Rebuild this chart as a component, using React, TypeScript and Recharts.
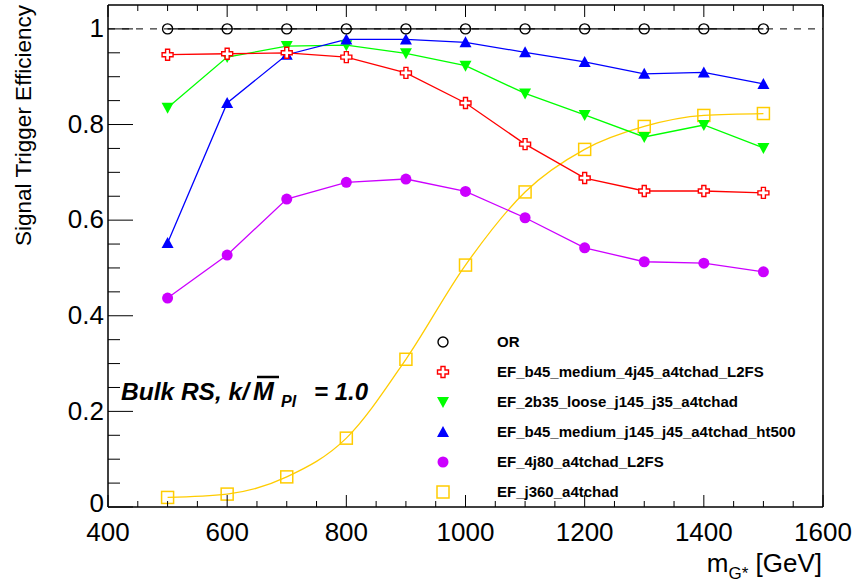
import React from 'react'
import { LineChart, Line, XAxis, YAxis, ReferenceLine } from 'recharts'

// G* mass points (GeV)
const masses = [500, 600, 700, 800, 900, 1000, 1100, 1200, 1300, 1400, 1500]

// trigger efficiencies per mass point
const effOR = [1, 1, 1, 1, 1, 1, 1, 1, 1, 1, 1]
const effB45_4j45 = [0.946, 0.948, 0.95, 0.941, 0.908, 0.845, 0.759, 0.688, 0.661, 0.661, 0.657]
const eff2b35 = [0.835, 0.941, 0.964, 0.966, 0.949, 0.923, 0.865, 0.82, 0.774, 0.799, 0.751]
const effB45Ht500 = [0.552, 0.845, 0.946, 0.978, 0.978, 0.972, 0.951, 0.931, 0.906, 0.909, 0.885]
const eff4j80 = [0.437, 0.527, 0.644, 0.679, 0.686, 0.66, 0.605, 0.542, 0.513, 0.51, 0.492]
const effJ360 = [0.02, 0.027, 0.063, 0.144, 0.309, 0.506, 0.659, 0.748, 0.796, 0.819, 0.823]

const xTicks = [400, 450, 500, 550, 600, 650, 700, 750, 800, 850, 900, 950, 1000, 1050, 1100, 1150, 1200, 1250, 1300, 1350, 1400, 1450, 1500, 1550, 1600]
const xLabels = [400, 600, 800, 1000, 1200, 1400, 1600]
const yTicks = [0, 0.05, 0.1, 0.15, 0.2, 0.25, 0.3, 0.35, 0.4, 0.45, 0.5, 0.55, 0.6, 0.65, 0.7, 0.75, 0.8, 0.85, 0.9, 0.95, 1]
const yLabels = [0, 0.2, 0.4, 0.6, 0.8, 1]

const data = masses.map((m, i) => ({
  m,
  or: effOR[i],
  b45_4j45: effB45_4j45[i],
  b2b35: eff2b35[i],
  b45ht: effB45Ht500[i],
  j80: eff4j80[i],
  j360: effJ360[i],
}))

const FONT = '"Liberation Sans", Arial, Helvetica, sans-serif'

const isMajorY = (v: number) => yLabels.some((l) => Math.abs(l - v) < 1e-6)

// ---- marker shapes ----
const OpenCircle = ({ cx, cy }: any) => <circle cx={cx} cy={cy} r={5} fill="none" stroke="#000" strokeWidth={1.4} />
const OpenCross = ({ cx, cy }: any) => {
  const h = 5.5
  const a = 2
  const pts = [
    [-a, -h], [a, -h], [a, -a], [h, -a], [h, a], [a, a],
    [a, h], [-a, h], [-a, a], [-h, a], [-h, -a], [-a, -a],
  ].map(([px, py]) => `${cx + px},${cy + py}`).join(' ')
  return <polygon points={pts} fill="#fff" stroke="#ff0000" strokeWidth={1.4} />
}
const DownTri = ({ cx, cy }: any) => (
  <polygon points={`${cx - 6},${cy - 5} ${cx + 6},${cy - 5} ${cx},${cy + 6}`} fill="#00ff00" />
)
const UpTri = ({ cx, cy }: any) => (
  <polygon points={`${cx - 6},${cy + 5} ${cx + 6},${cy + 5} ${cx},${cy - 6}`} fill="#0000ff" />
)
const FullCircle = ({ cx, cy }: any) => <circle cx={cx} cy={cy} r={5.5} fill="#cc00ff" />
const OpenSquare = ({ cx, cy }: any) => (
  <rect x={cx - 6} y={cy - 6} width={12} height={12} fill="none" stroke="#ffcc00" strokeWidth={1.5} />
)

const dotFn = (Shape: any) => (props: any) => <Shape key={`${props.dataKey}-${props.index}`} cx={props.cx} cy={props.cy} />

// ---- axis ticks (ROOT style, pointing inward) ----
const BottomTick = ({ x, y, payload }: any) => {
  const major = xLabels.includes(payload.value)
  return (
    <g>
      <line x1={x} x2={x} y1={y} y2={y - (major ? 12 : 6)} stroke="#000" />
      {major && (
        <text x={x} y={y + 34} textAnchor="middle" fontSize={26} fontFamily={FONT} fill="#000">
          {payload.value}
        </text>
      )}
    </g>
  )
}
const TopTick = ({ x, y, payload }: any) => {
  const major = xLabels.includes(payload.value)
  return <line x1={x} x2={x} y1={y} y2={y + (major ? 12 : 6)} stroke="#000" />
}
const LeftTick = ({ x, y, payload }: any) => {
  const major = isMajorY(payload.value)
  return (
    <g>
      <line x1={x} x2={x + (major ? 25 : 12)} y1={y} y2={y} stroke="#000" />
      {major && (
        <text
          x={x - 4}
          y={y}
          dy={payload.value === 0 ? '0.18em' : '0.32em'}
          textAnchor="end"
          fontSize={26}
          fontFamily={FONT}
          fill="#000"
        >
          {String(Math.round(payload.value * 10) / 10)}
        </text>
      )}
    </g>
  )
}
const RightTick = ({ x, y, payload }: any) => {
  const major = isMajorY(payload.value)
  return <line x1={x} x2={x - (major ? 25 : 12)} y1={y} y2={y} stroke="#000" />
}

const legendRows = [
  { label: 'OR', Shape: OpenCircle },
  { label: 'EF_b45_medium_4j45_a4tchad_L2FS', Shape: OpenCross },
  { label: 'EF_2b35_loose_j145_j35_a4tchad', Shape: DownTri },
  { label: 'EF_b45_medium_j145_j45_a4tchad_ht500', Shape: UpTri },
  { label: 'EF_4j80_a4tchad_L2FS', Shape: FullCircle },
  { label: 'EF_j360_a4tchad', Shape: OpenSquare },
]

export default function App() {
  return (
    <div style={{ position: 'absolute', left: 0, top: 0, width: 858, height: 583, background: '#fff' }}>
      <LineChart width={858} height={583} data={data} margin={{ top: 4, right: 34, bottom: 75, left: 107 }}>
        <XAxis
          dataKey="m"
          type="number"
          domain={[400, 1600]}
          ticks={xTicks}
          interval={0}
          height={1}
          tickSize={0}
          tickMargin={0}
          tickLine={false}
          tick={<BottomTick />}
          stroke="#000"
          strokeWidth={1.5}
        />
        <XAxis
          xAxisId="top"
          orientation="top"
          dataKey="m"
          type="number"
          domain={[400, 1600]}
          ticks={xTicks}
          interval={0}
          height={1}
          tickSize={0}
          tickMargin={0}
          tickLine={false}
          tick={<TopTick />}
          stroke="#000"
          strokeWidth={1.5}
        />
        <YAxis
          type="number"
          domain={[0, 1.05]}
          ticks={yTicks}
          interval={0}
          width={1}
          tickSize={0}
          tickMargin={0}
          tickLine={false}
          tick={<LeftTick />}
          stroke="#000"
          strokeWidth={1.5}
        />
        <YAxis
          yAxisId="right"
          orientation="right"
          type="number"
          domain={[0, 1.05]}
          ticks={yTicks}
          interval={0}
          width={1}
          tickSize={0}
          tickMargin={0}
          tickLine={false}
          tick={<RightTick />}
          stroke="#000"
          strokeWidth={1.5}
        />
        <ReferenceLine y={1} stroke="#000" strokeDasharray="7 7" />
        <Line dataKey="j360" type="monotone" stroke="#ffcc00" strokeWidth={1.3} dot={dotFn(OpenSquare)} isAnimationActive={false} />
        <Line dataKey="j80" type="linear" stroke="#cc00ff" strokeWidth={1.3} dot={dotFn(FullCircle)} isAnimationActive={false} />
        <Line dataKey="b2b35" type="linear" stroke="#00ff00" strokeWidth={1.3} dot={dotFn(DownTri)} isAnimationActive={false} />
        <Line dataKey="b45ht" type="linear" stroke="#0000ff" strokeWidth={1.3} dot={dotFn(UpTri)} isAnimationActive={false} />
        <Line dataKey="b45_4j45" type="linear" stroke="#ff0000" strokeWidth={1.3} dot={dotFn(OpenCross)} isAnimationActive={false} />
        <Line dataKey="or" type="linear" stroke="#000" strokeWidth={1.3} dot={dotFn(OpenCircle)} isAnimationActive={false} />
      </LineChart>

      <svg width={858} height={583} style={{ position: 'absolute', left: 0, top: 0, pointerEvents: 'none' }}>
        <text transform="translate(31,5) rotate(-90)" textAnchor="end" fontSize={22.5} fontFamily={FONT} fill="#000">
          Signal Trigger Efficiency
        </text>
        <text x={822} y={572} textAnchor="end" fontSize={26} fontFamily={FONT} fill="#000">
          m
          <tspan dy={7} fontSize={17}>G*</tspan>
          <tspan dy={-7}> [GeV]</tspan>
        </text>

        <g fontFamily={FONT} fontWeight="bold" fontStyle="italic" fill="#000">
          <text x={121} y={400} fontSize={24.5}>Bulk RS, k/</text>
          <text x={253} y={400} fontSize={25}>M</text>
          <line x1={257} x2={279} y1={377} y2={377} stroke="#000" strokeWidth={2.5} />
          <text x={281} y={407} fontSize={16}>Pl</text>
          <text x={314} y={400} fontSize={24}>= 1.0</text>
        </g>

        {legendRows.map(({ label, Shape }, i) => {
          const cy = 342 + i * 30
          return (
            <g key={label}>
              <Shape cx={443} cy={cy} />
              <text x={497} y={cy} dy="0.36em" fontSize={15} fontWeight="bold" fontFamily={FONT} fill="#000">
                {label}
              </text>
            </g>
          )
        })}
      </svg>
    </div>
  )
}
